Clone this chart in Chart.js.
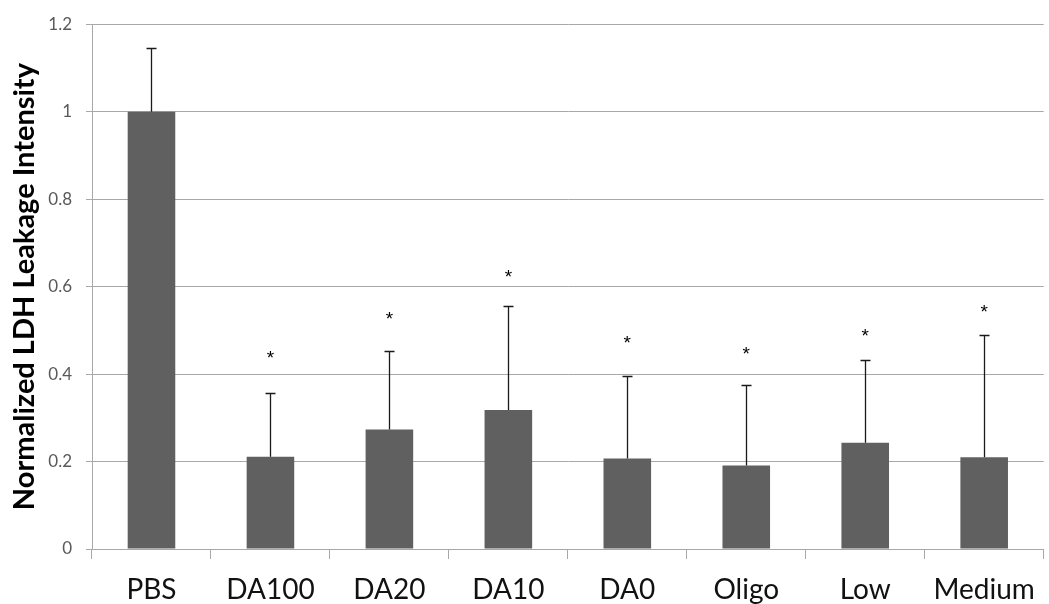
<!DOCTYPE html>
<html>
<head>
<meta charset="utf-8">
<script src="https://cdn.jsdelivr.net/npm/chart.js@4/dist/chart.umd.min.js"></script>
<style>
  html, body { margin: 0; padding: 0; background: #fff; }
  #wrap { width: 1049px; height: 604px; }
</style>
</head>
<body>
<div id="wrap"><canvas id="chart"></canvas></div>
<script>
// data
const groups = ['PBS', 'DA100', 'DA20', 'DA10', 'DA0', 'Oligo', 'Low', 'Medium'];
const means = [1.0, 0.211, 0.273, 0.318, 0.207, 0.191, 0.243, 0.21];
const errUp = [0.145, 0.146, 0.179, 0.237, 0.188, 0.184, 0.189, 0.28];
// height (in y units) where the significance star sits; null = none
const starAt = [null, 0.445, 0.534, 0.63, 0.48, 0.455, 0.497, 0.55];

const BAR = '#606060';
const GRID = '#a8a8a8';

// error bars (upper only) + asterisks
const errorBars = {
  id: 'errorBars',
  afterDatasetsDraw(chart) {
    const ctx = chart.ctx;
    const meta = chart.getDatasetMeta(0);
    const y = chart.scales.y;
    ctx.save();
    ctx.strokeStyle = '#1a1a1a';
    ctx.lineWidth = 1.3;
    meta.data.forEach((bar, i) => {
      const x = Math.round(bar.x) + 0.5;
      const y0 = y.getPixelForValue(means[i]);
      const y1 = Math.round(y.getPixelForValue(means[i] + errUp[i])) + 0.5;
      ctx.beginPath();
      ctx.moveTo(x, y0);
      ctx.lineTo(x, y1);
      ctx.moveTo(x - 5, y1);
      ctx.lineTo(x + 5, y1);
      ctx.stroke();
    });
    ctx.fillStyle = '#000';
    ctx.font = '19px "Liberation Sans"';
    ctx.textAlign = 'center';
    ctx.textBaseline = 'alphabetic';
    meta.data.forEach((bar, i) => {
      if (starAt[i] == null) return;
      ctx.fillText('*', bar.x, y.getPixelForValue(starAt[i]) + 10);
    });
    ctx.restore();
  }
};

new Chart(document.getElementById('chart'), {
  type: 'bar',
  data: {
    labels: groups,
    datasets: [{
      data: means,
      backgroundColor: BAR,
      borderWidth: 0,
      categoryPercentage: 0.8,
      barPercentage: 0.5
    }]
  },
  options: {
    responsive: true,
    maintainAspectRatio: false,
    animation: false,
    layout: { padding: { top: 4, right: 2, left: 0, bottom: 0 } },
    plugins: {
      legend: { display: false },
      tooltip: { enabled: false }
    },
    scales: {
      x: {
        offset: true,
        grid: {
          offset: true,
          drawOnChartArea: false,
          color: GRID,
          tickLength: 10
        },
        border: { color: GRID },
        ticks: {
          color: '#111',
          padding: 14,
          maxRotation: 0,
          font: { family: 'Lato', size: 28 }
        },
        afterFit(scale) { scale.height = 55; }
      },
      y: {
        min: 0,
        max: 1.2,
        grid: { color: GRID, tickLength: 6 },
        border: { color: GRID },
        ticks: {
          stepSize: 0.2,
          color: '#595959',
          padding: 14,
          font: { family: 'Lato', size: 17 },
          callback: v => String(Math.round(v * 10) / 10)
        },
        title: {
          display: true,
          text: 'Normalized LDH Leakage Intensity',
          color: '#000',
          padding: { top: 7, bottom: 0 },
          font: { family: 'Lato', size: 29, weight: 'bold' }
        },
        afterFit(scale) { scale.width = 92; }
      }
    }
  },
  plugins: [errorBars]
});
</script>
</body>
</html>
